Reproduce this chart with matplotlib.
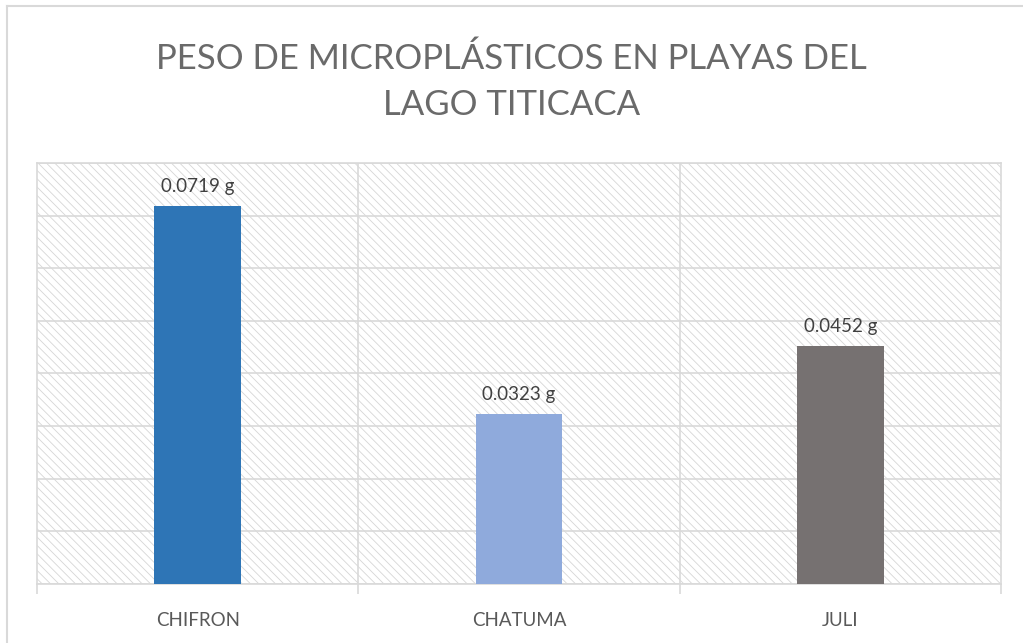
import matplotlib.pyplot as plt
from matplotlib.patches import Rectangle
from matplotlib.lines import Line2D

# data
categories = ['CHIFRON', 'CHATUMA', 'JULI']
pesos = [0.0719, 0.0323, 0.0452]
labels = ['0.0719 g', '0.0323 g', '0.0452 g']
colors = ['#2E75B6', '#8FAADC', '#767171']

plt.rcParams['font.family'] = ['Lato', 'DejaVu Sans']
plt.rcParams['hatch.color'] = '#D6D6D6'
plt.rcParams['hatch.linewidth'] = 0.6

fig = plt.figure(figsize=(10.23, 6.43), dpi=100)
ax = fig.add_axes([0.0362, 0.0918, 0.9423, 0.6547])

# outer chart border (top and left only visible)
fig.add_artist(Line2D([7 / 1023, 1.0], [1 - 6 / 643, 1 - 6 / 643], color='#D9D9D9', lw=1.5))
fig.add_artist(Line2D([7 / 1023, 7 / 1023], [0, 1 - 6 / 643], color='#D9D9D9', lw=1.5))

# hatched plot area
ax.add_patch(Rectangle((0, 0), 1, 1, transform=ax.transAxes, facecolor='white',
                       edgecolor='#D6D6D6', hatch='\\\\\\\\', lw=0, zorder=0))

x = range(len(categories))
ax.bar(x, pesos, width=0.27, color=colors, zorder=3)

for i, (v, t) in enumerate(zip(pesos, labels)):
    ax.annotate(t, (i, v), xytext=(0, 8), textcoords='offset points',
                ha='center', va='bottom', fontsize=13.5, color='#404040')

ax.set_xlim(-0.5, 2.5)
ax.set_ylim(0, 0.08)
ax.set_yticks([i * 0.01 for i in range(9)])
ax.yaxis.grid(True, color='#D9D9D9', lw=1.2, zorder=1)
ax.set_axisbelow(True)
ax.tick_params(axis='y', left=False, labelleft=False)

# category separators
for b in [0.5, 1.5]:
    ax.axvline(b, color='#D9D9D9', lw=1.2, zorder=1)

ax.set_xticks([-0.5, 0.5, 1.5, 2.5], minor=False)
ax.set_xticklabels([])
ax.tick_params(axis='x', which='major', length=7, color='#D9D9D9', width=1.2)
ax.set_xticks(list(x), minor=True)
ax.set_xticklabels(categories, minor=True, fontsize=13.5, color='#595959')
ax.tick_params(axis='x', which='minor', length=0, pad=20)

for s in ['left', 'right', 'bottom', 'top']:
    ax.spines[s].set_color('#D9D9D9')
    ax.spines[s].set_linewidth(1.2)

fig.text(0.5, 1 - 82 / 643, 'PESO DE MICROPLÁSTICOS EN PLAYAS DEL\nLAGO TITICACA',
         ha='center', va='center', fontsize=25, color='#6A6A6A',
         linespacing=1.55)

fig.savefig('out.png', dpi=100)
